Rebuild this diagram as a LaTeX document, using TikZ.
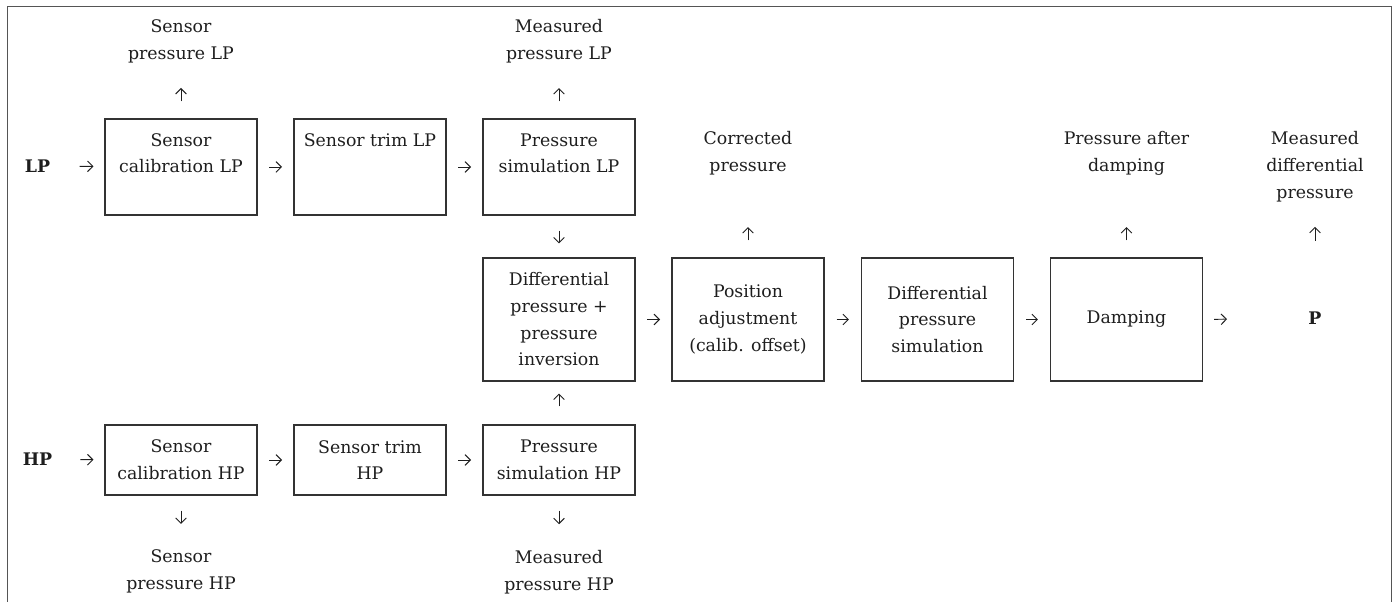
\documentclass[tikz,border=0pt]{standalone}
\usepackage{fontspec}
\setmainfont{DejaVu Serif}
\usetikzlibrary{arrows.meta}
\definecolor{txt}{HTML}{1E1E1E}
\definecolor{boxc}{HTML}{333333}
\definecolor{framec}{HTML}{555555}
\newcommand{\toptext}[1]{\begin{minipage}[c][72pt][t]{114pt}\centering\rule{0pt}{20.5pt}#1\end{minipage}}
\begin{document}
\begin{tikzpicture}[x=0.75pt,y=-0.75pt,
  every node/.style={font=\fontsize{13}{20}\selectfont, text=txt, inner sep=0pt},
  boxr1/.style={draw=boxc, line width=0.8pt},
  blk/.style={draw=boxc, line width=0.8pt, minimum width=114pt, align=center},
  boxr2/.style={blk, minimum height=92.25pt},
  boxr3/.style={blk, minimum height=52.5pt},
  lbl/.style={align=center},
  arr/.style={draw=txt, line width=0.7pt, -{Straight Barb[length=4pt,width=8pt]}}
]
\useasboundingbox (0,0) rectangle (1397,602);
\draw[framec, line width=0.75pt] (7,602) -- (7,7) -- (1391,7) -- (1391,602);

% row 1 (LP)
\node[font=\fontsize{13}{20}\selectfont\bfseries] (lp) at (37.5,166) {LP};
\node[boxr1] (b1) at (181,167) {\toptext{Sensor\\calibration LP}};
\node[boxr1] (b2) at (370,167) {\toptext{Sensor trim LP}};
\node[boxr1] (b3) at (559,167) {\toptext{Pressure\\simulation LP}};

% row 2
\node[boxr2] (d) at (559,319.5) {Differential\\pressure +\\pressure\\inversion};
\node[boxr2] (pos) at (748,319.5) {Position\\adjustment\\(calib. offset)};
\node[boxr2] (ds) at (937.5,319.5) {Differential\\pressure\\simulation};
\node[boxr2] (dmp) at (1126.5,319.5) {Damping};
\node[font=\fontsize{13}{20}\selectfont\bfseries] (p) at (1315,318) {P};

% row 3 (HP)
\node[font=\fontsize{13}{20}\selectfont\bfseries] (hp) at (37.5,459.5) {HP};
\node[boxr3] (h1) at (181,460) {Sensor\\calibration HP};
\node[boxr3] (h2) at (370,460) {Sensor trim\\HP};
\node[boxr3] (h3) at (559,460) {Pressure\\simulation HP};

% labels
\node[lbl] (slp) at (181,41.5) {Sensor\\pressure LP};
\node[lbl] (mlp) at (559,41.5) {Measured\\pressure LP};
\node[lbl] (cor) at (748,153.3) {Corrected\\pressure};
\node[lbl] (pad) at (1126.5,153.3) {Pressure after\\damping};
\node[lbl] (mdp) at (1315,166.6) {Measured\\differential\\pressure};
\node[lbl] (shp) at (181,571.5) {Sensor\\pressure HP};
\node[lbl] (mhp) at (559,572.5) {Measured\\pressure HP};

% horizontal arrows
\draw[arr, shorten <=22pt, shorten >=8.25pt] (lp) -- (b1);
\draw[arr, shorten <=8.6pt, shorten >=8.6pt] (b1) -- (b2);
\draw[arr, shorten <=8.6pt, shorten >=8.6pt] (b2) -- (b3);
\draw[arr, shorten <=8.6pt, shorten >=8.6pt] (d) -- (pos);
\draw[arr, shorten <=9pt, shorten >=9pt] (pos) -- (ds);
\draw[arr, shorten <=9pt, shorten >=9pt] (ds) -- (dmp);
\draw[arr, shorten <=8.25pt, shorten >=60.9pt] (dmp.east) -- (p.west);
\draw[arr, shorten <=21pt, shorten >=8.25pt] (hp) -- (h1);
\draw[arr, shorten <=8.6pt, shorten >=8.6pt] (h1) -- (h2);
\draw[arr, shorten <=8.6pt, shorten >=8.6pt] (h2) -- (h3);

% vertical arrows
\draw[arr, shorten <=12.75pt, shorten >=18.5pt] (b1.north) -- (slp.south);
\draw[arr, shorten <=12.75pt, shorten >=18.5pt] (b3.north) -- (mlp.south);
\draw[arr, shorten <=11.25pt, shorten >=10.5pt] (b3.south) -- (d.north);
\draw[arr, shorten <=13.5pt, shorten >=9pt] (h3.north) -- (d.south);
\draw[arr, shorten <=11.25pt, shorten >=19.3pt] (h1.south) -- (shp.north);
\draw[arr, shorten <=11.25pt, shorten >=19.7pt] (h3.south) -- (mhp.north);
\draw[arr, shorten <=12.75pt, shorten >=38.8pt] (pos.north) -- (cor.south);
\draw[arr, shorten <=12.75pt, shorten >=38.8pt] (dmp.north) -- (pad.south);
\draw[arr, shorten <=53pt, shorten >=18.75pt] (p.north) -- (mdp.south);
\end{tikzpicture}
\end{document}
